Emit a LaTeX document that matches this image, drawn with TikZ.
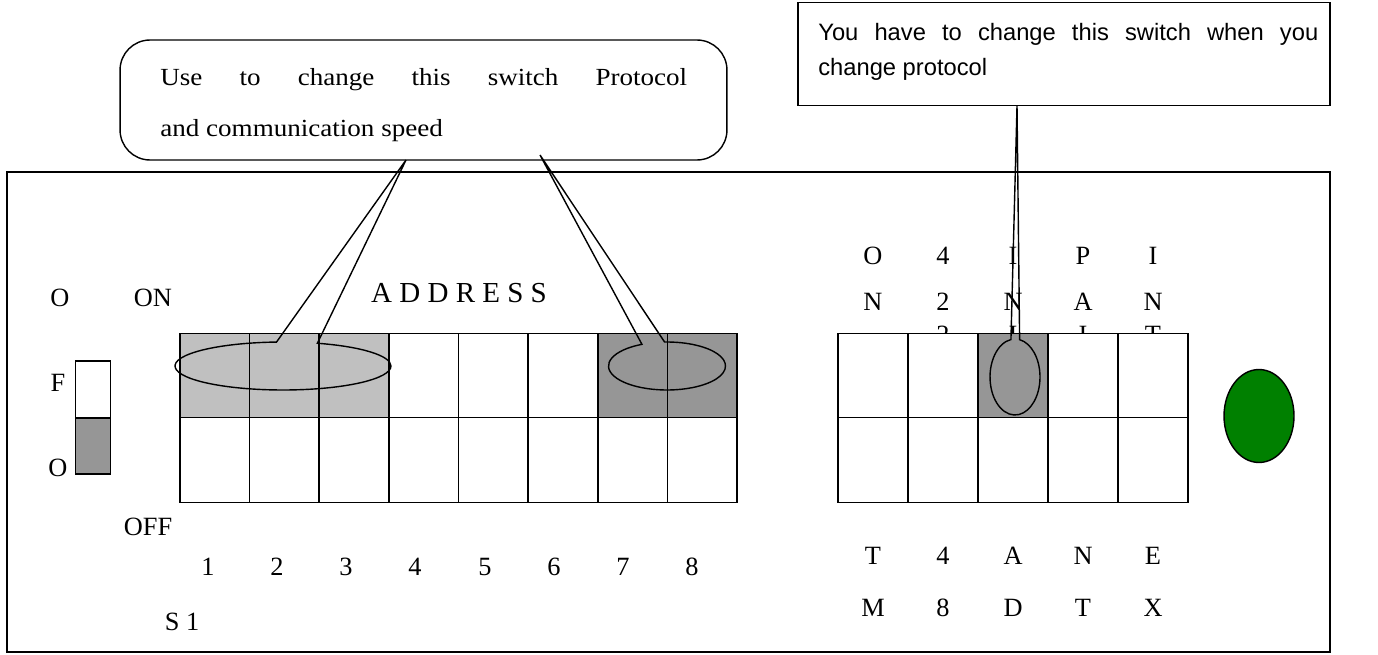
\documentclass[tikz,border=0pt]{standalone}
\usepackage{fontspec}
\setmainfont{Liberation Serif}
\newfontfamily\callfont[FakeStretch=1.1]{Liberation Serif}
\newfontfamily\notefont{Liberation Sans}
\usetikzlibrary{shapes.geometric,shapes.callouts}

\definecolor{swlight}{RGB}{192,192,192}
\definecolor{swdark}{RGB}{150,150,150}
\definecolor{ledgreen}{RGB}{0,128,0}

\tikzset{
  cell/.style={draw, fill=white, line width=0.8pt, minimum width=1.392cm, minimum height=1.69cm, inner sep=0pt},
  rcell/.style={cell, minimum width=1.4cm},
  lab/.style={font=\fontsize{15}{18}\selectfont, inner sep=0pt},
  ring/.style={ellipse callout, draw, line width=0.8pt, inner sep=0pt},
  panel/.style={draw, line width=1.5pt, minimum width=26.46cm, minimum height=9.6cm},
  callbox/.style={draw, line width=0.8pt, rounded corners=0.6cm, minimum width=12.14cm, minimum height=2.4cm},
  calltext/.style={text width=10.54cm, align=justify, inner sep=0pt,
    font=\callfont\fontsize{14}{29}\selectfont},
  notebox/.style={draw, line width=0.8pt, minimum width=10.64cm, minimum height=2.06cm},
  notetext/.style={text width=10.0cm, align=justify, inner sep=0pt,
    font=\notefont\fontsize{13.5}{20}\selectfont}
}

\begin{document}
\begin{tikzpicture}[x=0.02cm, y=-0.02cm]
    \useasboundingbox (0,0) rectangle (1378,655);

    \node[panel] (board) at (668.5,412) {};

    % S1 address switch
    \node[cell, fill=swlight] (a1) at (214.8,375.5) {};
    \node[cell, fill=swlight] (a2) at (284.4,375.5) {};
    \node[cell, fill=swlight] (a3) at (354.1,375.5) {};
    \node[cell] (a4) at (423.7,375.5) {};
    \node[cell] (a5) at (493.3,375.5) {};
    \node[cell] (a6) at (563.0,375.5) {};
    \node[cell, fill=swdark] (a7) at (632.6,375.5) {};
    \node[cell, fill=swdark] (a8) at (702.2,375.5) {};

    \node[cell] (b1) at (214.8,460) {};
    \node[cell] (b2) at (284.4,460) {};
    \node[cell] (b3) at (354.1,460) {};
    \node[cell] (b4) at (423.7,460) {};
    \node[cell] (b5) at (493.3,460) {};
    \node[cell] (b6) at (563.0,460) {};
    \node[cell] (b7) at (632.6,460) {};
    \node[cell] (b8) at (702.2,460) {};

    \node[lab] (n1) at (208,567) {1};
    \node[lab] (n2) at (277,567) {2};
    \node[lab] (n3) at (346,567) {3};
    \node[lab] (n4) at (415,567) {4};
    \node[lab] (n5) at (485,567) {5};
    \node[lab] (n6) at (554,567) {6};
    \node[lab] (n7) at (623,567) {7};
    \node[lab] (n8) at (692,567) {8};

    \node[lab] (on)   at (153,298) {ON};
    \node[lab] (off)  at (148,527) {OFF};
    \node[lab] (s1)   at (182,622) {S 1};
    \node[lab, font=\fontsize{16.5}{20}\selectfont] (addr) at (459,293) {A D D R E S S};

    % legend
    \node[lab] (lg1) at (60,298) {O};
    \node[lab] (lg2) at (58,383) {F};
    \node[lab] (lg3) at (58,468) {O};
    \node[draw, line width=0.8pt, minimum width=0.7cm, minimum height=1.14cm] (lgon) at (93,389.5) {};
    \node[draw, line width=0.8pt, fill=swdark, minimum width=0.7cm, minimum height=1.12cm] (lgoff) at (93,446) {};

    % mode switch
    \node[lab] (u1) at (873,256) {O};
    \node[lab] (u2) at (943,256) {4};
    \node[lab] (u3) at (1013,256) {I};
    \node[lab] (u4) at (1083,256) {P};
    \node[lab] (u5) at (1153,256) {I};
    \node[lab] (v1) at (873,302) {N};
    \node[lab] (v2) at (943,302) {2};
    \node[lab] (v3) at (1013,302) {N};
    \node[lab] (v4) at (1083,302) {A};
    \node[lab] (v5) at (1153,302) {N};
    \node[lab] (w2) at (943,335) {2};
    \node[lab] (w3) at (1013,335) {I};
    \node[lab] (w4) at (1083,335) {I};
    \node[lab] (w5) at (1153,335) {T};

    \node[rcell] (c1) at (873,375.5) {};
    \node[rcell] (c2) at (943,375.5) {};
    \node[rcell, fill=swdark] (c3) at (1013,375.5) {};
    \node[rcell] (c4) at (1083,375.5) {};
    \node[rcell] (c5) at (1153,375.5) {};

    \node[rcell] (d1) at (873,460) {};
    \node[rcell] (d2) at (943,460) {};
    \node[rcell] (d3) at (1013,460) {};
    \node[rcell] (d4) at (1083,460) {};
    \node[rcell] (d5) at (1153,460) {};

    \node[lab] (x1) at (873,556) {T};
    \node[lab] (x2) at (943,556) {4};
    \node[lab] (x3) at (1013,556) {A};
    \node[lab] (x4) at (1083,556) {N};
    \node[lab] (x5) at (1153,556) {E};
    \node[lab] (y1) at (873,608) {M};
    \node[lab] (y2) at (943,608) {8};
    \node[lab] (y3) at (1013,608) {D};
    \node[lab] (y4) at (1083,608) {T};
    \node[lab] (y5) at (1153,608) {X};

    \node[ellipse, draw, line width=0.8pt, fill=ledgreen, minimum width=1.4cm, minimum height=1.86cm] (led) at (1259,416) {};

    % notes
    \node[callbox] (note1) at (423.5,100) {};
    \node[calltext, anchor=north west] (note1txt) at (160,68)
      {Use to change this switch Protocol\linebreak and communication speed};
    \node[notebox] (note2) at (1064,54) {};
    \node[notetext, anchor=north west] (note2txt) at (818,23)
      {You have to change this switch when you\linebreak change protocol};

    \coordinate (p1) at (406,160);
    \coordinate (p2) at (540,155);
    \coordinate (p3) at (1017,106);
    \node[ring, minimum width=4.32cm, minimum height=0.96cm, callout pointer arc=22,
      callout absolute pointer={(p1)}] (sel1) at (283,366) {};
    \node[ring, minimum width=2.34cm, minimum height=0.96cm, callout pointer arc=23,
      callout absolute pointer={(p2)}] (sel2) at (667,366) {};
    \node[ring, minimum width=1.0cm, minimum height=1.52cm, callout pointer arc=20,
      callout absolute pointer={(p3)}] (sel3) at (1015,377) {};
\end{tikzpicture}
\end{document}
